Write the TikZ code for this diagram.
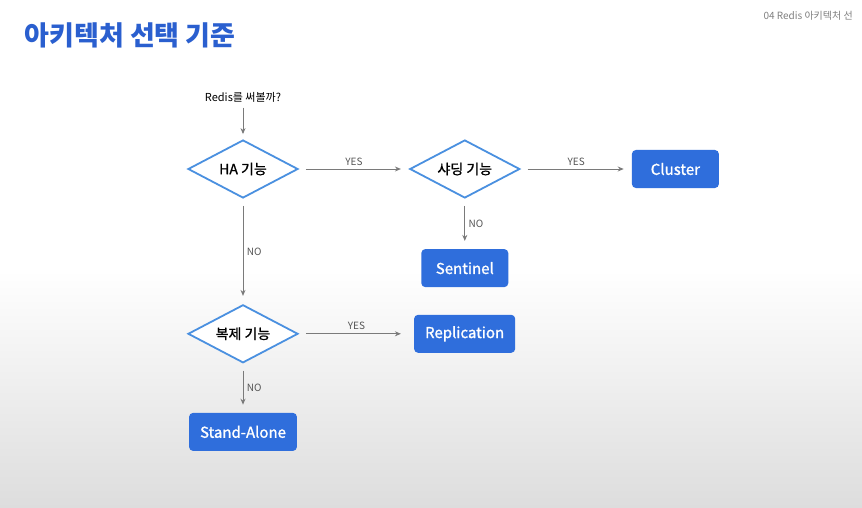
\documentclass[tikz,border=0pt]{standalone}
\usepackage{fontspec}
\setmainfont{Noto Sans CJK KR}
\newfontfamily\medfont{Noto Sans CJK KR}[FakeBold=1.2]
\usetikzlibrary{arrows.meta,positioning,shapes.geometric}
\definecolor{titleblue}{HTML}{2A5FCF}
\definecolor{boxblue}{HTML}{2F6EDC}
\definecolor{rimblue}{HTML}{4A90E0}
\definecolor{arrgray}{HTML}{7A7A7A}
\definecolor{labgray}{HTML}{555555}
\definecolor{bggray}{HTML}{DDDDDD}

\begin{document}
\begin{tikzpicture}[
    x=1pt, y=-1pt,
    decision/.style={diamond, aspect=2, draw=rimblue, line width=1.8pt, fill=white,
      minimum width=110pt, minimum height=58pt, inner sep=0pt,
      font=\medfont\fontsize{14}{16}\selectfont},
    result/.style={rectangle, rounded corners=4pt, fill=boxblue, text=white,
      minimum width=87pt, minimum height=38pt, inner xsep=11pt,
      font=\medfont\fontsize{15}{18}\selectfont},
    arr/.style={-{Stealth[length=6pt, width=5pt]}, arrgray, line width=1pt,
      shorten >=8pt, shorten <=7pt},
    label style/.style={font=\fontsize{10}{12}\selectfont, text=labgray}
  ]

  %% Background
  \useasboundingbox (0,0) rectangle (862,508);
  \fill[white] (0,0) rectangle (862,270);
  \shade[top color=white, bottom color=bggray] (0,270) rectangle (862,508);

  %% Title and breadcrumb
  \node[anchor=west, font=\fontsize{27}{32}\selectfont\bfseries, text=titleblue]
    (title) at (21,35) {아키텍처 선택 기준};
  \node[anchor=west, font=\fontsize{10}{12}\selectfont, text=gray]
    (crumb) at (760,16) {04 Redis 아키텍처 선};

  %% Start question
  \node[font=\fontsize{11}{13}\selectfont] (ask) at (243,97) {Redis를 써볼까?};

  %% Decisions
  \node[decision] (ha) at (243,169) {HA 기능};
  \node[decision, right=110pt of ha] (shard) {샤딩 기능};
  \node[decision, below=105pt of ha] (dup) {복제 기능};

  %% Results
  \node[result, right=111pt of shard] (cluster) {Cluster};
  \node[result, below=50pt of shard] (sentinel) {Sentinel};
  \node[result, right=115pt of dup] (replication) {Replication};
  \node[result, below=49pt of dup] (alone) {Stand-Alone};

  %% Arrows
  \draw[arr, shorten <=2pt, shorten >=5pt] (ask) -- (ha);
  \draw[arr] (ha) -- node[above, label style]{YES} (shard);
  \draw[arr] (shard) -- node[above, label style]{YES} (cluster);
  \draw[arr] (shard) -- node[right, label style]{NO} (sentinel);
  \draw[arr] (ha) -- node[right, label style]{NO} (dup);
  \draw[arr, shorten >=13pt] (dup) -- node[above, label style]{YES} (replication);
  \draw[arr] (dup) -- node[right, label style]{NO} (alone);

\end{tikzpicture}
\end{document}
